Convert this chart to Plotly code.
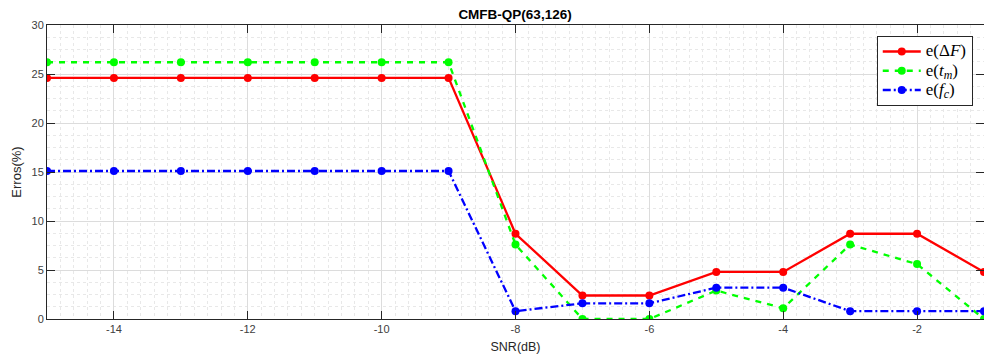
import plotly.graph_objects as go

# SNR sweep (dB) and error rates (%) for each estimated parameter
snr_db = [-15, -14, -13, -12, -11, -10, -9, -8, -7, -6, -5, -4, -3, -2, -1]
err_delta_f = [24.6, 24.6, 24.6, 24.6, 24.6, 24.6, 24.6, 8.7, 2.4, 2.4, 4.8, 4.8, 8.7, 8.7, 4.8]
err_tm = [26.2, 26.2, 26.2, 26.2, 26.2, 26.2, 26.2, 7.6, 0.0, 0.0, 2.9, 1.1, 7.6, 5.6, 0.0]
err_fc = [15.1, 15.1, 15.1, 15.1, 15.1, 15.1, 15.1, 0.8, 1.6, 1.6, 3.2, 3.2, 0.8, 0.8, 0.8]

x_ticks = [-14, -12, -10, -8, -6, -4, -2]
x_tick_text = ["-14", "-12", "-10", "-8", "-6", "-4", "-2"]
y_ticks = [0, 5, 10, 15, 20, 25, 30]

# legend labels: larger glyphs inside a compact legend row
big = '<span style="font-size:17px">{}</span>'
series = [
    (big.format("e(Δ<i>F</i>)"), err_delta_f, "#ff0000", "solid"),
    (big.format("e(<i>t</i><sub><i>m</i></sub>)"), err_tm, "#00ff00", "6px,6px"),
    (big.format("e(<i>f</i><sub><i>c</i></sub>)"), err_fc, "#0000ff", "8px,3px,2px,3px"),
]

fig = go.Figure()
for name, vals, color, dash in series:
    fig.add_trace(go.Scatter(
        x=snr_db, y=vals, name=name, mode="lines+markers",
        line=dict(color=color, width=2.3, dash=dash),
        marker=dict(color=color, size=8, symbol="circle"),
    ))

axis_common = dict(
    showline=True, linecolor="#262626", linewidth=1, mirror="allticks",
    ticks="inside", ticklen=8, tickcolor="#262626", tickwidth=1,
    showgrid=True, gridcolor="#dcdcdc", gridwidth=1,
    zeroline=False,
    tickfont=dict(family="Liberation Sans, Arial", size=11, color="#404040"),
)

fig.update_layout(
    width=984, height=362,
    margin=dict(l=47, r=0, t=25, b=43),
    paper_bgcolor="white", plot_bgcolor="white",
    title=dict(
        text="<b>CMFB-QP(63,126)</b>", x=0.5234, xanchor="center",
        y=1 - 14 / 362, yanchor="middle", yref="container",
        font=dict(family="Liberation Sans, Arial", size=13.5, color="#000000"),
    ),
    xaxis=dict(
        range=[-15, -1], tickvals=x_ticks, ticktext=x_tick_text,
        title=dict(text="SNR(dB)", standoff=8,
                   font=dict(family="Liberation Sans, Arial", size=12.5, color="#262626")),
        minor=dict(dtick=0.2, tick0=-15, showgrid=True, gridcolor="#e8e8e8",
                   griddash="dot", ticks=""),
        **axis_common,
    ),
    yaxis=dict(
        range=[0, 30], tickvals=y_ticks,
        title=dict(text="Erros(%)", standoff=6,
                   font=dict(family="Liberation Sans, Arial", size=13, color="#262626")),
        minor=dict(dtick=1.25, tick0=0, showgrid=True, gridcolor="#e8e8e8",
                   griddash="dot", ticks=""),
        **axis_common,
    ),
    legend=dict(
        x=0.988, y=0.963, xanchor="right", yanchor="top",
        bgcolor="white", bordercolor="#262626", borderwidth=1,
        font=dict(family="Liberation Serif, DejaVu Serif", size=12.5, color="#000000"),
        tracegroupgap=0, itemwidth=38,
    ),
    showlegend=True,
)

fig.write_html("out.html")
